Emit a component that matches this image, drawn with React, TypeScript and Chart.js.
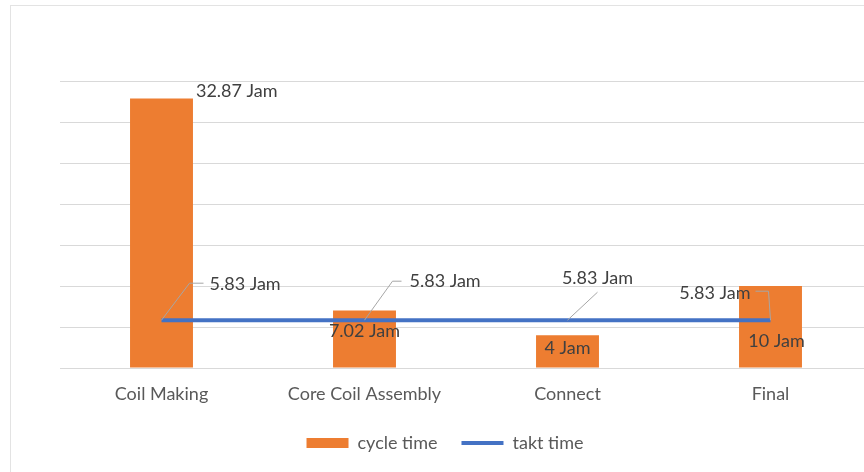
import React, { useEffect, useRef } from "react";
import { Chart, registerables } from "chart.js";

Chart.register(...registerables);

const categories = ["Coil Making", "Core Coil Assembly", "Connect", "Final"];
const cycleTime = [32.87, 7.02, 4, 10];
const taktTime = [5.83, 5.83, 5.83, 5.83];
const unit = "Jam";
const seriesNames = ["cycle time", "takt time"];

const ORANGE = "#ED7D31";
const BLUE = "#4472C4";
const TEXT = "#404040";
const FONT = "Lato";

// label placement offsets (relative to library-computed element positions)
const barLabelPlace = [
  { dx: 0, dy: -7, anchor: "right" },
  { dx: 0, dy: 21, anchor: "center" },
  { dx: 0, dy: 13, anchor: "center" },
  { dx: 6, dy: 55, anchor: "center" },
];
const lineLabelPlace = [
  { ex: 28, ey: -37, hx: 42, tx: 48, ty: -36, align: "left" },
  { ex: 28, ey: -39, hx: 37, tx: 45, ty: -39, align: "left" },
  { ex: 30, ey: -28, hx: 30, tx: 30, ty: -42, align: "center" },
  { ex: -2, ey: -29, hx: -15, tx: -20, ty: -27, align: "right" },
];

const labelPlugin = {
  id: "valueLabels",
  afterDatasetsDraw(chart: any) {
    const ctx = chart.ctx;
    ctx.save();
    ctx.font = `18px ${FONT}`;
    ctx.fillStyle = TEXT;
    ctx.textBaseline = "middle";
    const barMeta = chart.getDatasetMeta(1);
    barMeta.data.forEach((el: any, i: number) => {
      const p = barLabelPlace[i];
      const txt = `${cycleTime[i]} ${unit}`;
      if (p.anchor === "right") {
        ctx.textAlign = "left";
        ctx.fillText(txt, el.x + el.width / 2 + 3 + p.dx, el.y + p.dy);
      } else {
        ctx.textAlign = "center";
        ctx.fillText(txt, el.x + p.dx, el.y + p.dy);
      }
    });
    const lineMeta = chart.getDatasetMeta(0);
    lineMeta.data.forEach((el: any, i: number) => {
      const p = lineLabelPlace[i];
      ctx.strokeStyle = "#A6A6A6";
      ctx.lineWidth = 1;
      ctx.beginPath();
      ctx.moveTo(el.x, el.y);
      ctx.lineTo(el.x + p.ex, el.y + p.ey);
      ctx.lineTo(el.x + p.hx, el.y + p.ey);
      ctx.stroke();
      ctx.fillStyle = TEXT;
      ctx.textAlign = p.align;
      ctx.fillText(`${taktTime[i]} ${unit}`, el.x + p.tx, el.y + p.ty);
    });
    ctx.restore();
  },
};

export default function App() {
  const ref = useRef<HTMLCanvasElement>(null);
  useEffect(() => {
    if (!ref.current) return;
    const chart = new Chart(ref.current, {
      type: "bar",
      data: {
        labels: categories,
        datasets: [
          {
            type: "line",
            label: seriesNames[1],
            data: taktTime,
            borderColor: BLUE,
            backgroundColor: BLUE,
            borderWidth: 4,
            pointRadius: 0,
          } as any,
          {
            type: "bar",
            label: seriesNames[0],
            data: cycleTime,
            backgroundColor: ORANGE,
            barPercentage: 0.62,
            categoryPercentage: 0.5,
          },
        ],
      },
      options: {
        animation: false,
        responsive: false,
        devicePixelRatio: 1,
        layout: { padding: { left: 18, right: 18, top: 81, bottom: 10 } },
        plugins: {
          tooltip: { enabled: false },
          legend: {
            position: "bottom",
            labels: {
              usePointStyle: true,
              pointStyleWidth: 42,
              boxHeight: 10,
              padding: 24,
              color: "#595959",
              font: { family: FONT, size: 18 },
              generateLabels: () => [
                {
                  text: seriesNames[0],
                  fillStyle: ORANGE,
                  strokeStyle: ORANGE,
                  lineWidth: 0,
                  pointStyle: "rect",
                  hidden: false,
                  datasetIndex: 1,
                  fontColor: "#595959",
                },
                {
                  text: seriesNames[1],
                  fillStyle: BLUE,
                  strokeStyle: BLUE,
                  lineWidth: 4,
                  pointStyle: "line",
                  hidden: false,
                  datasetIndex: 0,
                  fontColor: "#595959",
                },
              ],
            },
          },
        },
        scales: {
          x: {
            grid: { display: false, drawTicks: false },
            border: { display: false },
            ticks: {
              color: "#595959",
              font: { family: FONT, size: 18 },
              padding: 15,
            },
            afterFit: (s: any) => {
              s.height = 42;
            },
          },
          y: {
            min: 0,
            max: 35,
            ticks: { display: false, stepSize: 5 },
            grid: { color: "#D9D9D9", drawTicks: false },
            border: { display: false },
            afterFit: (s: any) => {
              s.width = 42;
            },
          },
        },
      },
      plugins: [labelPlugin],
    });
    return () => chart.destroy();
  }, []);
  return (
    <div
      style={{
        position: "fixed",
        left: 0,
        top: 0,
        width: 864,
        height: 472,
        overflow: "hidden",
        background: "#fff",
      }}
    >
      <div
        style={{
          position: "absolute",
          left: 10,
          top: 5,
          width: 900,
          height: 520,
          border: "1px solid #E3E3E3",
        }}
      />
      <canvas
        ref={ref}
        width={890}
        height={472}
        style={{ position: "absolute", left: 0, top: 0, width: 890, height: 472 }}
      />
    </div>
  );
}
